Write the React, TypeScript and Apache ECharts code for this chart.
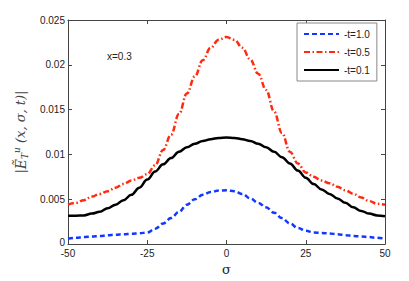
import React, { useEffect, useRef } from "react";
import * as echarts from "echarts";

const sigma = [
  -50, -47.5, -45, -42.5, -40, -37.5, -35, -32.5, -30, -27.5, -25, -22.5, -20, -17.5, -15, -12.5, -10, -7.5, -5, -2.5,
  0, 2.5, 5, 7.5, 10, 12.5, 15, 17.5, 20, 22.5, 25, 27.5, 30, 32.5, 35, 37.5, 40, 42.5, 45, 47.5, 50,
];

const t10 = [
  0.0006, 0.0007, 0.00078, 0.00085, 0.0009, 0.00098, 0.00105, 0.0011, 0.00115, 0.0012, 0.0013, 0.0017, 0.0023, 0.0029,
  0.0036, 0.0044, 0.005, 0.0055, 0.0058, 0.00597, 0.006, 0.0059, 0.0056, 0.0051, 0.0046, 0.0041, 0.0035, 0.0029, 0.0023,
  0.0018, 0.0015, 0.0013, 0.00125, 0.00118, 0.0011, 0.001, 0.0009, 0.00085, 0.00078, 0.0007, 0.0006,
];

const t05 = [
  0.0044, 0.0046, 0.0049, 0.0053, 0.0056, 0.0059, 0.0063, 0.0067, 0.0071, 0.0074, 0.0078, 0.0088, 0.0105, 0.0122,
  0.0145, 0.0168, 0.0187, 0.0205, 0.0219, 0.0228, 0.0231, 0.0228, 0.0219, 0.0206, 0.019, 0.0172, 0.0148, 0.0124, 0.0103,
  0.009, 0.008, 0.0075, 0.0071, 0.0068, 0.0064, 0.006, 0.0056, 0.0052, 0.0048, 0.0045, 0.0044,
];

const t01 = [
  0.00315, 0.00317, 0.0032, 0.0034, 0.0036, 0.004, 0.0044, 0.0049, 0.0055, 0.0063, 0.0072, 0.0081, 0.0089, 0.0096,
  0.0103, 0.0108, 0.0112, 0.0115, 0.0117, 0.01185, 0.0119, 0.01185, 0.0117, 0.0115, 0.0112, 0.0108, 0.0103, 0.0097, 0.009,
  0.0082, 0.0074, 0.0067, 0.0061, 0.0056, 0.0051, 0.0046, 0.0041, 0.0037, 0.0034, 0.0032, 0.0031,
];

const seriesNames = ["-t=1.0", "-t=0.5", "-t=0.1"];
const yTickLabels = ["0", "0.005", "0.01", "0.015", "0.02", "0.025"];
const xTickLabels = ["-50", "-25", "0", "25", "50"];

export default function App() {
  const ref = useRef<HTMLDivElement>(null);
  useEffect(() => {
    if (!ref.current) return;
    const chart = echarts.init(ref.current, null, { renderer: "svg" });
    const pairs = (vals: number[]) => sigma.map((s, i) => [s, vals[i]]);
    const axisColor = "#444";
    const font = "Arial, 'Liberation Sans', sans-serif";
    const serif = "'DejaVu Serif', 'Liberation Serif', serif";
    const mirrorAxis = {
      axisLine: { show: true, onZero: false, lineStyle: { color: axisColor, width: 1 } },
      axisTick: { show: true, inside: true, length: 4, lineStyle: { color: axisColor } },
      axisLabel: { show: false },
      splitLine: { show: false },
    };
    chart.setOption({
      animation: false,
      backgroundColor: "#fff",
      grid: { left: 68, right: 24, top: 20, bottom: 33 },
      xAxis: [
        {
          type: "value",
          min: -50,
          max: 50,
          interval: 25,
          position: "bottom",
          name: "σ",
          nameLocation: "middle",
          nameGap: 17,
          nameTextStyle: { fontFamily: serif, fontSize: 13, color: "#222" },
          axisLine: { show: true, onZero: false, lineStyle: { color: axisColor, width: 1 } },
          axisTick: { show: true, inside: true, length: 4, lineStyle: { color: axisColor } },
          axisLabel: {
            color: "#222",
            fontSize: 10,
            fontFamily: font,
            margin: 4,
            formatter: (v: number) => xTickLabels[Math.round((v + 50) / 25)] ?? "",
          },
          splitLine: { show: false },
        },
        { type: "value", min: -50, max: 50, interval: 25, position: "top", ...mirrorAxis },
      ],
      yAxis: [
        {
          type: "value",
          min: 0,
          max: 0.025,
          interval: 0.005,
          position: "left",
          name: "{n||}{e|Ẽ}{sub|T}{sup|u}{n| (x, σ, t)|}",
          nameLocation: "middle",
          nameGap: 33,
          nameTextStyle: {
            color: "#444",
            rich: {
              n: { fontFamily: serif, fontStyle: "italic", fontSize: 13, color: "#444" },
              e: { fontFamily: serif, fontStyle: "italic", fontSize: 14, color: "#444" },
              sub: { fontFamily: serif, fontStyle: "italic", fontSize: 9, color: "#444", verticalAlign: "bottom", padding: [8, 0, 0, 0] },
              sup: { fontFamily: serif, fontStyle: "italic", fontSize: 9, color: "#444", verticalAlign: "top", padding: [0, 0, 8, 0] },
            },
          },
          axisLine: { show: true, onZero: false, lineStyle: { color: axisColor, width: 1 } },
          axisTick: { show: true, inside: true, length: 4, lineStyle: { color: axisColor } },
          axisLabel: {
            color: "#222",
            fontSize: 10,
            fontFamily: font,
            margin: 3,
            formatter: (v: number) => {
              const i = Math.round(v / 0.005);
              const s = yTickLabels[i] ?? "";
              return i === 0 ? "{z|" + s + "}" : s;
            },
            rich: { z: { fontSize: 10, fontFamily: font, color: "#222", padding: [0, 0, 4, 0] } },
          },
          splitLine: { show: false },
        },
        { type: "value", min: 0, max: 0.025, interval: 0.005, position: "right", ...mirrorAxis },
      ],
      legend: {
        left: 297,
        top: 23,
        orient: "vertical",
        padding: [6, 7, 6, 6],
        itemGap: 8,
        itemWidth: 35,
        itemHeight: 12,
        borderColor: "#888",
        borderWidth: 1,
        backgroundColor: "#fff",
        itemStyle: { opacity: 0 },
        textStyle: { fontSize: 10, fontFamily: font, color: "#222" },
        data: seriesNames,
      },
      graphic: [
        {
          type: "text",
          left: 107,
          top: 51,
          style: { text: "x=0.3", fontSize: 10, fontFamily: font, fill: "#222" },
        },
      ],
      series: [
        {
          name: seriesNames[0],
          type: "line",
          data: pairs(t10),
          smooth: 0.4,
          smoothMonotone: "x",
          symbol: "none",
          lineStyle: { color: "#1238ff", width: 2.5, type: [5, 3] },
          itemStyle: { color: "#1238ff" },
          z: 3,
        },
        {
          name: seriesNames[1],
          type: "line",
          data: pairs(t05),
          smooth: 0.4,
          smoothMonotone: "x",
          symbol: "none",
          lineStyle: { color: "#ff2a10", width: 2.5, type: [6, 2.5, 1.5, 2.5] },
          itemStyle: { color: "#ff2a10" },
          z: 4,
        },
        {
          name: seriesNames[2],
          type: "line",
          data: pairs(t01),
          smooth: 0.4,
          smoothMonotone: "x",
          symbol: "none",
          lineStyle: { color: "#000", width: 2.5 },
          itemStyle: { color: "#000" },
          z: 2,
        },
      ],
    });
    return () => chart.dispose();
  }, []);
  return (
    <div
      ref={ref}
      style={{ position: "fixed", left: 0, top: 0, width: 409, height: 281, background: "#fff" }}
    />
  );
}
